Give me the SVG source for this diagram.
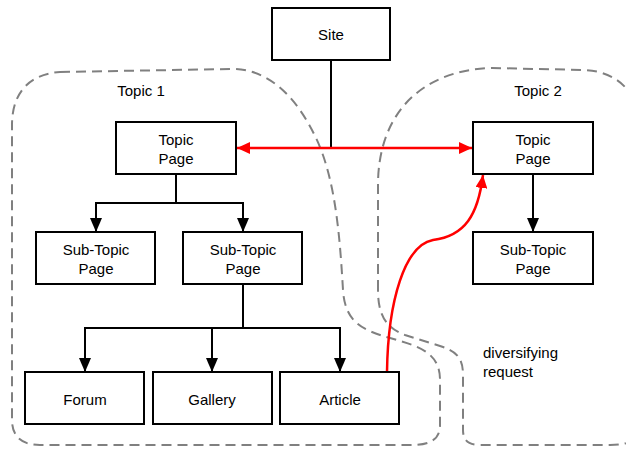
<svg xmlns="http://www.w3.org/2000/svg" width="626" height="449" viewBox="0 0 626 449">
<style>
.box{fill:#fff;stroke:#000;stroke-width:2}
.t{font-family:"Liberation Sans",Arial,sans-serif;font-size:15px;fill:#000;text-anchor:middle}
.l{font-family:"Liberation Sans",Arial,sans-serif;font-size:15px;fill:#000}
.c{fill:none;stroke:#000;stroke-width:2}
.r{fill:none;stroke:#f00;stroke-width:2.5}
.d{fill:none;stroke:#808080;stroke-width:2;stroke-dasharray:10,6}
</style>
<defs>
<marker id="ab" viewBox="0 0 14 12" refX="14" refY="6" markerWidth="14" markerHeight="12" markerUnits="userSpaceOnUse" orient="auto"><path d="M0,0 L14,6 L0,12 Z" fill="#000"/></marker>
<marker id="ar" viewBox="0 0 13 12" refX="13" refY="6" markerWidth="13" markerHeight="12" markerUnits="userSpaceOnUse" orient="auto-start-reverse"><path d="M0,0 L13,6 L0,12 Z" fill="#f00"/></marker>
</defs>
<g id="regions">
<path class="d" d="M60,72 L230,69 C268,68 296,96 316,138 C336,180 340,240 343,290 C345,322 362,330 390,338 C418,346 440,352 440,380 L440,425 C440,440 430,445 410,445 L40,445 C20,445 12,435 12,420 L12,125 C12,92 30,74 60,72 Z"/>
<path class="d" d="M378,290 L378,185 C378,115 420,70 492,68 L585,70 C620,72 640,95 640,130 L640,420 C640,440 630,445 610,445 L480,445 C468,445 463,440 463,430 L463,375 C463,356 455,351 440,346 L405,335 C386,328 378,315 378,290 Z"/>
<text class="t" x="141" y="96">Topic 1</text>
<text class="t" x="538" y="96">Topic 2</text>
</g>
<g id="connectors">
<path class="c" d="M331,60 L331,149"/>
<path class="r" d="M237,148 L472,148" marker-start="url(#ar)" marker-end="url(#ar)"/>
<path class="c" d="M176,174 L176,203 M96,203 L243,203"/>
<path class="c" d="M96,202 L96,232" marker-end="url(#ab)"/>
<path class="c" d="M243,202 L243,232" marker-end="url(#ab)"/>
<path class="c" d="M243,284 L243,328 M85,328 L340,328"/>
<path class="c" d="M85,327 L85,372" marker-end="url(#ab)"/>
<path class="c" d="M212,327 L212,372" marker-end="url(#ab)"/>
<path class="c" d="M340,327 L340,372" marker-end="url(#ab)"/>
<path class="c" d="M533,174 L533,232" marker-end="url(#ab)"/>
<path class="r" d="M387,372 C388,300 405,245 433,240 C465,236 478,215 483,175" marker-end="url(#ar)"/>
</g>
<g id="site"><rect class="box" x="272" y="8" width="118" height="52"/><text class="t" x="331" y="40">Site</text></g>
<g id="topic1"><rect class="box" x="116" y="122" width="120" height="52"/><text class="t" x="176" y="145">Topic</text><text class="t" x="176" y="164">Page</text></g>
<g id="topic2"><rect class="box" x="473" y="122" width="120" height="52"/><text class="t" x="533" y="145">Topic</text><text class="t" x="533" y="164">Page</text></g>
<g id="sub1"><rect class="box" x="36" y="232" width="119" height="52"/><text class="t" x="96" y="255">Sub-Topic</text><text class="t" x="96" y="274">Page</text></g>
<g id="sub2"><rect class="box" x="183" y="232" width="119" height="52"/><text class="t" x="243" y="255">Sub-Topic</text><text class="t" x="243" y="274">Page</text></g>
<g id="sub3"><rect class="box" x="473" y="232" width="120" height="52"/><text class="t" x="533" y="255">Sub-Topic</text><text class="t" x="533" y="274">Page</text></g>
<g id="forum"><rect class="box" x="25" y="372" width="119" height="52"/><text class="t" x="85" y="405">Forum</text></g>
<g id="gallery"><rect class="box" x="153" y="372" width="119" height="52"/><text class="t" x="212" y="405">Gallery</text></g>
<g id="article"><rect class="box" x="280" y="372" width="119" height="52"/><text class="t" x="340" y="405">Article</text></g>
<g id="label"><text class="l" x="483" y="358">diversifying</text><text class="l" x="483" y="377">request</text></g>
</svg>
